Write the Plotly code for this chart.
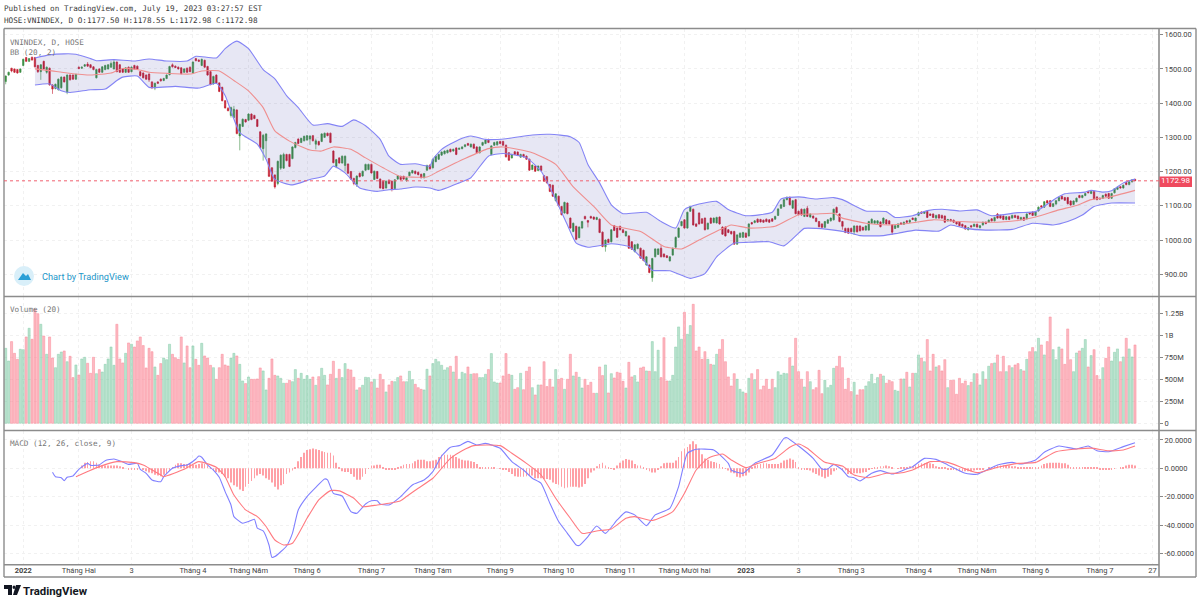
import plotly.graph_objects as go

opens = [
1463,1482,1502,1500,1498,1490,1510,1533,1522,1534,1533,1510,1492,1522,1490,1502,1453,1443,1440,1445,
1476,1432,1482,1482,1470,1505,1502,1508,1514,1512,1506,1474,1500,1490,1498,1500,1505,1500,1520,1512,
1500,1490,1505,1492,1510,1508,1492,1488,1482,1485,1462,1444,1462,1470,1466,1472,1483,1512,1508,1505,
1503,1490,1502,1505,1488,1530,1526,1510,1525,1507,1492,1456,1482,1459,1446,1407,1385,1364,1358,1380,
1304,1332,1352,1350,1368,1364,1352,1316,1267,1290,1238,1211,1190,1165,1210,1210,1250,1250,1238,1270,
1295,1285,1290,1292,1295,1305,1280,1288,1288,1300,1312,1312,1260,1215,1240,1225,1218,1222,1200,1180,
1163,1195,1187,1204,1206,1221,1177,1200,1178,1172,1152,1175,1172,1150,1178,1186,1186,1174,1188,1196,
1201,1198,1192,1182,1204,1219,1211,1229,1236,1248,1252,1255,1265,1260,1269,1265,1267,1273,1282,1272,
1280,1272,1255,1277,1282,1294,1250,1277,1278,1288,1288,1277,1255,1240,1258,1257,1242,1250,1245,1236,
1206,1216,1203,1216,1188,1185,1162,1160,1115,1128,1098,1079,1108,1064,1025,1040,1007,1035,1069,1057,
1069,1067,1060,1061,1023,980,1002,995,1042,1035,1040,1030,1012,1012,995,966,975,976,970,927,
927,890,951,958,976,959,954,939,956,979,1008,1042,1059,1035,1084,1090,1047,1079,1062,1064,
1032,1064,1051,1050,1067,1038,1038,1030,1025,1025,988,1008,1008,1020,1012,1051,1051,1061,1060,1058,
1061,1059,1062,1061,1072,1093,1098,1118,1125,1093,1118,1084,1090,1069,1093,1067,1070,1064,1054,1047,
1037,1049,1056,1059,1095,1076,1054,1034,1034,1034,1024,1041,1041,1037,1029,1029,1049,1049,1049,1053,
1049,1059,1056,1044,1034,1037,1050,1046,1056,1052,1064,1056,1072,1082,1078,1084,1076,1076,1064,1074,
1072,1070,1056,1060,1058,1052,1052,1046,1042,1030,1042,1040,1046,1036,1044,1052,1052,1062,1056,1076,
1072,1070,1060,1068,1064,1072,1070,1060,1066,1062,1080,1082,1072,1085,1100,1096,1115,1115,1098,1105,
1115,1128,1124,1124,1114,1104,1112,1130,1124,1130,1142,1136,1142,1126,1122,1122,1134,1136,1122,1138,
1148,1156,1152,1168,1162,1170,1177.5]
closes = [
1479,1490,1494,1490,1488,1500,1528,1522,1530,1526,1506,1492,1512,1500,1505,1453,1441,1455,1470,1476,
1462,1482,1468,1470,1484,1501,1505,1512,1508,1504,1498,1498,1490,1506,1510,1512,1516,1520,1492,1490,
1490,1503,1490,1505,1500,1500,1480,1474,1470,1468,1445,1458,1458,1465,1472,1482,1507,1506,1504,1500,
1486,1500,1490,1492,1520,1524,1522,1528,1505,1482,1454,1478,1459,1434,1407,1386,1378,1387,1382,1311,
1338,1353,1345,1368,1352,1355,1332,1270,1306,1310,1186,1172,1155,1230,1248,1250,1232,1215,1272,1285,
1282,1297,1303,1305,1304,1290,1290,1278,1310,1312,1305,1285,1226,1235,1225,1245,1245,1195,1178,1165,
1187,1185,1201,1221,1221,1196,1201,1180,1152,1150,1172,1165,1148,1176,1188,1177,1178,1182,1198,1203,
1194,1191,1182,1194,1218,1208,1236,1245,1250,1257,1260,1262,1258,1265,1250,1268,1272,1278,1277,1280,
1268,1255,1272,1285,1292,1285,1275,1285,1287,1282,1277,1243,1233,1250,1250,1247,1250,1243,1236,1204,
1219,1201,1216,1203,1172,1167,1142,1128,1135,1100,1074,1110,1077,1035,1049,1002,1038,1054,1062,1052,
1064,1061,1066,1022,981,1000,993,1030,1028,1008,1030,1022,1025,976,973,986,988,947,940,951,
905,946,974,974,951,951,949,951,976,1008,1035,1054,1035,1081,1098,1044,1040,1047,1049,1030,
1049,1049,1064,1066,1047,1017,1012,1022,1018,988,1015,1020,1022,1008,1047,1047,1056,1052,1053,1052,
1054,1052,1055,1069,1091,1103,1118,1125,1103,1115,1077,1074,1073,1090,1069,1076,1064,1054,1039,1037,
1054,1059,1064,1090,1080,1054,1040,1022,1020,1024,1041,1024,1027,1029,1041,1054,1061,1056,1056,1039,
1064,1047,1047,1023,1042,1047,1046,1052,1052,1058,1060,1064,1080,1078,1082,1066,1072,1066,1072,1064,
1064,1052,1060,1056,1052,1047,1042,1040,1032,1036,1038,1046,1038,1042,1052,1048,1058,1056,1066,1064,
1064,1060,1068,1060,1072,1066,1062,1066,1058,1076,1076,1072,1082,1096,1096,1112,1108,1098,1106,1115,
1124,1120,1116,1106,1102,1114,1122,1124,1130,1136,1138,1142,1120,1118,1120,1130,1128,1122,1136,1150,
1154,1152,1160,1162,1170,1176,1172.98]
highs = [
1481,1492,1503,1501,1499,1501,1530,1535,1532,1536,1535,1512,1514,1524,1507,1504,1455,1457,1472,1478,
1478,1484,1484,1484,1486,1507,1507,1514,1520,1514,1508,1500,1502,1508,1512,1514,1522,1528,1522,1514,
1502,1505,1507,1507,1512,1510,1494,1490,1484,1487,1464,1460,1464,1472,1474,1484,1509,1516,1510,1507,
1505,1502,1504,1507,1522,1532,1528,1530,1527,1509,1494,1480,1484,1461,1448,1409,1388,1390,1392,1382,
1340,1355,1354,1370,1370,1366,1354,1318,1310,1312,1240,1213,1192,1232,1250,1255,1252,1252,1274,1287,
1297,1299,1305,1307,1306,1307,1296,1290,1312,1314,1314,1314,1262,1237,1242,1247,1247,1224,1202,1182,
1189,1197,1203,1223,1223,1223,1203,1202,1180,1174,1174,1177,1174,1178,1190,1188,1188,1184,1200,1205,
1203,1200,1194,1196,1220,1221,1238,1247,1252,1259,1262,1264,1267,1267,1271,1270,1274,1280,1284,1282,
1282,1274,1274,1287,1294,1296,1277,1287,1289,1290,1290,1279,1257,1252,1260,1259,1252,1252,1247,1238,
1221,1218,1218,1218,1190,1187,1164,1162,1137,1130,1100,1112,1110,1066,1051,1042,1040,1056,1071,1059,
1071,1069,1068,1063,1025,1002,1004,1032,1044,1037,1042,1032,1027,1014,997,988,990,978,972,953,
929,948,976,976,985,961,956,953,978,1010,1037,1056,1061,1083,1100,1092,1049,1081,1064,1066,
1051,1066,1066,1068,1069,1040,1040,1032,1027,1027,1017,1022,1024,1022,1049,1053,1058,1063,1062,1060,
1063,1061,1064,1071,1093,1105,1120,1127,1127,1117,1120,1086,1092,1092,1100,1078,1072,1066,1056,1049,
1056,1061,1066,1092,1098,1078,1056,1036,1036,1036,1043,1043,1043,1039,1043,1056,1063,1058,1058,1055,
1066,1061,1058,1046,1044,1049,1052,1054,1058,1060,1066,1066,1083,1084,1084,1086,1078,1078,1074,1076,
1074,1072,1062,1062,1060,1054,1054,1048,1044,1038,1044,1048,1048,1044,1054,1054,1060,1064,1068,1079,
1074,1072,1070,1070,1074,1074,1072,1068,1068,1078,1082,1084,1084,1098,1102,1114,1117,1117,1108,1117,
1126,1130,1126,1126,1116,1116,1124,1132,1132,1138,1144,1144,1144,1128,1124,1132,1136,1138,1138,1152,
1156,1158,1162,1170,1172,1178,1178.55]
lows = [
1455,1480,1490,1488,1486,1488,1508,1520,1520,1524,1504,1488,1468,1498,1486,1451,1427,1440,1436,1442,
1460,1426,1466,1468,1468,1499,1500,1506,1506,1502,1496,1472,1488,1488,1496,1498,1503,1498,1490,1488,
1488,1488,1488,1490,1498,1498,1478,1472,1468,1462,1441,1438,1456,1463,1464,1470,1481,1504,1502,1498,
1484,1488,1488,1490,1486,1522,1520,1508,1503,1480,1452,1454,1457,1432,1405,1384,1376,1358,1356,1309,
1262,1330,1343,1348,1350,1353,1330,1268,1232,1240,1184,1170,1150,1160,1205,1208,1230,1213,1236,1268,
1280,1283,1288,1290,1278,1288,1265,1276,1286,1298,1303,1283,1224,1210,1223,1223,1200,1193,1176,1160,
1155,1183,1185,1202,1204,1194,1175,1178,1150,1148,1150,1163,1142,1148,1176,1175,1176,1170,1186,1194,
1192,1189,1180,1180,1202,1206,1209,1227,1234,1246,1250,1253,1256,1258,1248,1263,1265,1271,1275,1270,
1266,1253,1253,1275,1280,1283,1248,1275,1276,1280,1275,1241,1231,1238,1248,1245,1240,1241,1234,1202,
1204,1199,1201,1201,1170,1165,1140,1126,1113,1098,1072,1077,1075,1033,1023,1000,1005,1033,1060,1037,
1062,1059,1058,1020,979,966,991,993,1026,1006,1028,1020,1010,974,971,964,973,945,938,925,
903,878,949,956,949,949,947,937,954,977,1006,1040,1033,1033,1082,1042,1038,1045,1047,1028,
1030,1047,1049,1048,1045,1015,1010,1020,1016,986,986,1006,1006,1006,1010,1045,1049,1050,1051,1050,
1052,1050,1053,1059,1070,1091,1096,1116,1101,1091,1075,1072,1071,1067,1067,1065,1062,1052,1037,1035,
1035,1047,1054,1057,1078,1052,1030,1020,1018,1022,1015,1022,1025,1027,1027,1027,1047,1047,1047,1037,
1047,1045,1045,1015,1032,1035,1044,1044,1050,1050,1058,1054,1070,1076,1076,1064,1070,1064,1062,1062,
1062,1050,1054,1054,1050,1045,1040,1038,1030,1028,1036,1038,1036,1034,1042,1046,1050,1054,1054,1062,
1062,1058,1058,1058,1062,1064,1060,1058,1056,1060,1074,1070,1070,1083,1094,1094,1106,1096,1096,1103,
1113,1118,1114,1104,1100,1102,1110,1122,1122,1128,1136,1134,1118,1116,1118,1120,1126,1120,1120,1136,
1146,1150,1150,1160,1160,1168,1172.98]
volumes_m = [
852,708,928,795,727,841,837,981,1080,955,1295,1246,1125,992,784,981,742,632,784,810,
822,700,761,519,663,549,731,750,682,568,750,564,610,583,670,731,867,659,1125,731,
686,795,913,898,867,936,981,883,629,852,814,640,545,678,742,723,898,784,746,727,
981,686,879,632,879,727,659,909,765,742,659,632,500,632,784,663,651,742,795,765,
670,481,451,526,500,500,504,629,595,379,511,731,545,538,511,455,455,489,473,610,
511,568,500,542,500,526,432,530,625,545,436,557,705,511,614,519,678,614,606,523,
379,405,432,523,519,470,500,401,557,496,356,436,477,473,519,538,473,473,591,496,
443,405,386,379,614,538,678,727,700,659,606,632,648,583,761,500,580,564,640,557,
564,564,519,519,557,610,792,470,458,458,538,792,557,545,386,405,568,382,591,640,
405,322,436,436,700,417,500,413,610,500,511,386,500,784,538,580,523,401,500,432,
466,341,341,640,542,663,345,564,515,580,572,477,401,693,527,542,470,629,640,595,
591,928,587,830,519,973,481,481,545,867,1095,955,1261,1011,1110,1352,822,867,727,814,
727,670,663,784,841,951,700,527,424,564,500,386,356,341,511,564,496,610,382,424,
500,386,500,405,587,549,568,564,746,651,966,587,500,413,587,473,382,405,602,337,
489,405,432,625,648,761,632,386,511,360,466,322,382,382,424,473,557,451,519,557,
538,455,489,473,375,364,504,504,580,413,568,568,777,742,700,951,595,784,640,655,
595,723,405,489,489,330,511,451,481,428,466,564,564,436,587,500,648,678,686,777,
587,761,587,655,632,663,678,610,595,727,814,860,814,966,890,777,928,1208,837,723,
867,845,670,1072,723,587,799,822,852,951,640,769,837,542,500,632,738,867,708,807,
845,700,754,966,845,754,890]

upper_idx = [10,15,20,24,29,31,37,44,49,55,62,65,72,75,79,83,88,92,96,100,105,110,115,119,123,128,131,135,
140,145,146,149,155,159,164,171,180,186,193,196,199,203,207,211,219,224,229,232,237,243,247,253,262,265,271,
277,283,286,294,301,304,310,315,320,326,332,337,346,352,359,362,369,371,375,378,382,386]
upper_vals = [1532,1541,1544,1543,1530,1524,1527,1523,1529,1523,1523,1537,1532,1559,1581,1559,1498,1471,1422,1387,1336,1340,1332,1351,1334,1294,1245,1221,
1223,1216,1236,1265,1294,1304,1294,1296,1307,1309,1302,1285,1221,1167,1103,1077,1081,1054,1035,1089,1105,1113,1089,1071,1081,1120,1126,
1120,1124,1118,1085,1083,1066,1071,1086,1090,1085,1088,1071,1080,1083,1122,1135,1140,1145,1140,1144,1167,1178]
basis_idx = [10,15,21,29,36,40,45,49,55,63,67,73,78,83,88,92,97,104,108,112,118,123,129,135,
138,144,148,157,165,170,180,188,194,201,207,217,225,231,237,244,248,254,263,271,
277,283,286,294,302,309,317,326,334,339,346,352,360,366,371,377,386]
basis_vals = [1500,1495,1488,1482,1488,1501,1498,1490,1487,1485,1494,1494,1466,1436,1387,1319,1289,1263,1260,1272,1265,1240,1211,1185,
1184,1184,1201,1238,1267,1272,1255,1221,1155,1098,1044,1025,981,974,1000,1030,1044,1035,1040,1074,
1076,1078,1064,1049,1044,1049,1059,1054,1052,1052,1057,1067,1088,1101,1118,1125,1145]
lower_idx = [10,15,19,22,29,34,38,40,45,49,58,66,72,75,80,86,89,92,98,104,109,112,116,121,127,131,135,
140,145,148,155,159,165,170,178,183,188,192,195,199,207,213,218,221,227,234,239,243,249,253,261,266,271,
273,277,281,288,292,300,305,311,319,323,328,335,344,351,358,363,368,372,378,386]
lower_vals = [1453,1456,1436,1431,1439,1441,1466,1476,1479,1446,1449,1444,1458,1422,1314,1280,1236,1177,1161,1177,1187,1216,1196,1152,1142,1147,1149,
1155,1152,1145,1167,1182,1245,1253,1240,1201,1118,1044,991,979,989,981,942,912,910,888,902,951,991,993,995,983,1020,
1034,1034,1031,1022,1013,1013,1020,1029,1026,1044,1034,1029,1031,1049,1044,1054,1073,1098,1108,1108]

macd_idx = [16,17,19,20,21,23,25,28,29,32,34,37,40,42,45,46,48,50,53,54,57,60,62,65,66,67,69,71,73,75,77,78,81,83,85,86,88,90,91,92,96,98,100,103,106,109,110,112,115,118,120,123,125,127,128,131,135,
139,143,146,149,152,155,158,161,164,169,173,177,180,183,186,189,192,195,196,199,202,205,209,212,215,219,222,227,230,233,236,242,247,248,252,256,262,266,267,271,
276,279,281,283,286,288,290,292,296,299,303,307,310,314,318,322,328,332,339,344,347,352,355,360,366,370,373,377,382,386]
macd_vals = [-2.8,-5.9,-6.6,-8.7,-6.3,-5.4,-.7,3.5,2.1,2.4,5.4,6.6,4.5,2.8,3.5,-.7,-3.5,-8.2,-9.4,-5.9,0,1.9,2.4,6.6,8.7,7.8,2.4,-1.2,-6.3,-16.4,-25.8,-34,-38.7,-37.5,-35.9,-42.2,-44.1,-54,-62.7,-62.2,-54.7,-45.8,-29.3,-19.9,-13.4,-7.5,-8.2,-17.6,-19.5,-30.5,-31.7,-25.1,-22.8,-22.8,-25.1,-25.8,-19.9,
-11.7,-8.2,-2.3,8.7,14.8,16,19,16.4,17.6,14.1,4.7,-1.2,-7,-10.6,-24.6,-37.5,-45.8,-54,-54.4,-48.1,-40.6,-45.8,-36.4,-30.7,-32.8,-40.4,-32.8,-28.2,-12.9,10.6,13.4,12.9,3.5,-1.2,-3.5,3.5,9.4,21.1,21.6,15.7,
7,-.5,-.5,2.8,-1.2,-5.9,-6.6,-8.9,-3.5,-1.6,-4,-1.2,1.2,7,6.3,2.4,-3.5,-4.2,2.4,4.2,3,5.9,11.3,15.7,13.6,15.7,12.4,11.7,15.3,18]
signal_idx = [24,28,32,38,44,47,53,54,61,66,72,75,78,82,86,89,92,95,98,103,107,111,114,119,122,127,131,135,
137,141,146,152,156,160,169,173,178,183,188,193,197,202,207,212,215,221,228,232,236,240,245,248,253,257,263,268,271,
274,280,286,290,295,301,305,310,316,322,332,339,346,352,359,366,371,377,382,386]
signal_vals = [-5.9,-2.3,1.2,4.7,4,2.4,-4.7,-5.9,-.7,4.7,.7,-5.9,-18.8,-29.3,-34,-41,-50.5,-54,-52.8,-35.2,-22.3,-15.7,-15.9,-21.1,-27,-25.8,-24.6,-22.8,
-19.9,-14,-7,7,12.4,16,16,10.6,3.5,-4.7,-21.1,-35.2,-45.8,-44.1,-42.7,-35.2,-34,-36.8,-30.5,-17.6,-1.2,7,10.1,5.9,.5,3.5,7,14.8,17.1,
14.1,4.2,1.6,-4.7,-6.6,-3.5,-3.5,-1.2,4.7,4.2,-3,.7,3.5,4.2,11.7,13.6,14.2,12.4,12.9,15.7]
hist_vals = [
2,4,4.5,5,5,4,2.5,2,2,2,2,2,2,1.5,1,0,-.5,-1,-1.2,-.5,
0,-.5,-2,-3,-3.5,-4.5,-5,-5.5,-4.5,-3.5,-1,1,2.5,3.5,3.5,3,3,3,2.5,2.5,
3,3.5,3,2,.5,-1.5,-2.5,-3,-4,-6,-7,-10,-12,-13,-15,-16,-13,-11,-9,-7,
-5,-4,-5,-7,-8,-10,-13,-15,-12,-11,-4,-3,-1.5,1,5,8,11,13,13.5,14,
13.5,13,12,11.5,11,11,9,4,.5,-2,-2.5,-2.5,-4,-6,-8,-8,-6,-4,-.3,2,
2,2.5,2.5,1,-.5,-1,-.5,-.8,.5,1.5,2.5,
3,3,3.5,5,6,6,6,5,5,5.5,6,8,9.5,9.5,9.5,9.5,9,8,7,6,
5.5,5.5,5,4.5,3,1,.5,.3,.5,.7,.5,0,-.3,-.7,-1,-2.5,-4,-5.5,-6,-6,
-6,-5.5,-5,-5,-7,-7,-7,-7.5,-7.5,-8,-10,-11,-11.5,-13,-14,-13.5,-13,-13,-13,-13.5,
-13,-11,-7,-3,-1.5,1.5,3,4,2,.3,-.3,-.7,2,4,5.5,6.5,6,5.5,3,2,
2,1,-.5,-2,-3,-3,-1,1.5,3.5,4,4,4,5.5,8,12,14,15,17,19,17,
14,10,7,6,5,4.5,4,3,1,-.3,-1.5,-3,-3.5,-6,-6.5,-5.5,-5,-3,.5,2,
2.5,3,3.5,3.5,3,3,3,3,4,5.5,6,7,6,4.5,1,-.5,
-.5,-1,-1.5,-3,-4,-5,-6,-7,-6,-4.5,-2,-1,0,-.5,-1.5,-4,-4,-3.5,-3.5,-3.5,
-3,-2.5,-1,-.3,.5,1,1.5,1.5,2,1.5,.5,0,-.3,.3,.7,1,1.5,1.5,2,3,
3.5,3.5,4,3.5,3,1.5,1,.7,.5,-.5,-1,-1,-1.5,-2,-2,-2,-2,-2,-1.5,-1,
-1,-.5,0,.5,1,1.5,2,2,2,2,2,1.5,1.5,1,.5,.3,.3,.3,.5,1,
1,2,3,3.5,4,4,4,4,3.5,3.5,2.5,1,.5,.3,.3,.3,.5,.7,.5,.3,
.3,-.5,-.7,-.5,-.5,-.5,-.3,0,.7,1,2,2.5,2.5,2]

tick_idx = [6,25,43,64,83,103,125,146,169,189,210,232,253,271,289,312,332,352,374,392]
tick_text = ["<b>2022</b>","Tháng Hai","3","Tháng 4","Tháng Năm","Tháng 6","Tháng 7","Tháng Tám","Tháng 9","Tháng 10",
             "Tháng 11","Tháng Mười hai","<b>2023</b>","3","Tháng 3","Tháng 4","Tháng Năm","Tháng 6","Tháng 7","27"]
price_ticks = [900,1000,1100,1200,1300,1400,1500,1600]
vol_ticks = [0,250,500,750,1000,1250]
vol_labels = ["0","250M","500M","750M","1B","1.25B"]
macd_ticks = [20,0,-20,-40,-60]

W, H = 1200, 602
px = lambda v: v / W
py = lambda v: 1 - v / H
n = len(closes)
idx = list(range(n))
UP, DOWN = "#3d8f45", "#c41f30"
BLUE, RED = "#8484f5", "#ef8f8f"
GRID = "#f1f1f1"
MONO = "DejaVu Sans Mono"
SANS = "Roboto"

fig = go.Figure()
fig.add_trace(go.Scatter(x=upper_idx, y=upper_vals, mode="lines", line=dict(color=BLUE, width=1.1, shape="spline", smoothing=0.5), xaxis="x", yaxis="y"))
fig.add_trace(go.Scatter(x=lower_idx, y=lower_vals, mode="lines", line=dict(color=BLUE, width=1.1, shape="spline", smoothing=0.5),
                         fill="tonexty", fillcolor="rgba(70,70,170,0.13)", xaxis="x", yaxis="y"))
fig.add_trace(go.Scatter(x=basis_idx, y=basis_vals, mode="lines", line=dict(color=RED, width=1.1, shape="spline", smoothing=0.5), xaxis="x", yaxis="y"))
fig.add_trace(go.Candlestick(x=idx, open=opens, high=highs, low=lows, close=closes,
                             increasing=dict(line=dict(color=UP, width=0.6), fillcolor=UP),
                             decreasing=dict(line=dict(color=DOWN, width=0.6), fillcolor=DOWN),
                             whiskerwidth=0, xaxis="x", yaxis="y"))
fig.add_trace(go.Bar(x=idx, y=volumes_m, width=0.72,
                     marker=dict(color=["rgba(120,200,160,0.5)" if c >= o else "rgba(250,130,145,0.55)" for o, c in zip(opens, closes)],
                                 line=dict(color=["rgba(120,200,160,0.7)" if c >= o else "rgba(250,130,145,0.75)" for o, c in zip(opens, closes)], width=0.6)),
                     xaxis="x2", yaxis="y2"))
hist_idx = list(range(n - len(hist_vals), n))
fig.add_trace(go.Bar(x=hist_idx, y=hist_vals, width=0.24, marker=dict(color="#ffa0a6", line=dict(width=0)), xaxis="x3", yaxis="y3"))
fig.add_trace(go.Scatter(x=macd_idx, y=macd_vals, mode="lines", line=dict(color="#8080ff", width=1.1, shape="spline", smoothing=0.5), xaxis="x3", yaxis="y3"))
fig.add_trace(go.Scatter(x=signal_idx, y=signal_vals, mode="lines", line=dict(color="#ff7a80", width=1.1, shape="spline", smoothing=0.5), xaxis="x3", yaxis="y3"))

xrange = [-0.58, 394.2]
xcommon = dict(range=xrange, domain=[px(4), px(1159)], tickmode="array", tickvals=tick_idx, ticktext=tick_text,
               showgrid=True, gridcolor=GRID, griddash="dot", gridwidth=1, zeroline=False, showline=False, rangeslider=dict(visible=False))
ycommon = dict(side="right", showgrid=True, gridcolor=GRID, griddash="dot", gridwidth=1, zeroline=False, showline=False,
               ticks="outside", ticklen=3, tickcolor="#888888", tickfont=dict(family=SANS, size=7.5, color="#444444"), tickmode="array")

fig.update_layout(
    width=W, height=H, autosize=False, margin=dict(l=0, r=0, t=0, b=0),
    paper_bgcolor="white", plot_bgcolor="white", showlegend=False, barmode="overlay",
    xaxis=dict(xcommon, anchor="y", showticklabels=False, ticks=""),
    xaxis2=dict(xcommon, anchor="y2", showticklabels=False, ticks="", matches="x"),
    xaxis3=dict(xcommon, anchor="y3", matches="x", ticks="",
                tickfont=dict(family=SANS, size=7.5, color="#444444")),
    yaxis=dict(ycommon, domain=[py(296.5), py(28.5)], anchor="x", range=[835, 1618], tickvals=price_ticks,
               ticktext=[f"{v:.2f}" for v in price_ticks]),
    yaxis2=dict(ycommon, domain=[py(430.5), py(297)], anchor="x2", range=[-82, 1435], tickvals=vol_ticks, ticktext=vol_labels),
    yaxis3=dict(ycommon, domain=[py(564.7), py(431)], anchor="x3", range=[-67.9, 26.3], tickvals=macd_ticks,
                ticktext=[f"{v:.4f}" for v in macd_ticks]),
)

LINE = "#8c8c8c"
def seg(x0, y0, x1, y1, w=1.4):
    return dict(type="line", xref="paper", yref="paper", x0=px(x0), y0=py(y0), x1=px(x1), y1=py(y1), line=dict(color=LINE, width=w), layer="above")

shapes = [
    seg(4, 28.5, 1196, 28.5), seg(4, 577, 1196, 577), seg(4, 28.5, 4, 577), seg(1196, 28.5, 1196, 577),
    seg(1159, 28.5, 1159, 577, 1.6), seg(4, 296.5, 1196, 296.5), seg(4, 430.5, 1196, 430.5), seg(4, 564.8, 1159, 564.8, 1.6),
    dict(type="line", xref="x", yref="y", x0=xrange[0], x1=xrange[1], y0=closes[-1], y1=closes[-1],
         line=dict(color="#f0606f", width=1, dash="dot"), layer="above"),
    dict(type="rect", xref="paper", yref="paper", x0=px(1159.5), x1=px(1192), y0=py(187), y1=py(176.5),
         fillcolor="#ef4a5e", line=dict(width=0), layer="above"),
    # Chart-by badge
    dict(type="circle", xref="paper", yref="paper", x0=px(14), x1=px(34), y0=py(286), y1=py(266),
         fillcolor="#d9eff9", line=dict(width=0), layer="above"),
    dict(type="path", xref="paper", yref="paper", layer="above", line=dict(width=0), fillcolor="#2a9fd6",
         path=f"M {px(18)} {py(280)} L {px(23)} {py(273)} L {px(26)} {py(276)} L {px(28)} {py(274)} L {px(31)} {py(280)} Z"),
    # Footer mark
    dict(type="rect", xref="paper", yref="paper", x0=px(4), x1=px(12), y0=py(589), y1=py(585), fillcolor="#131722", line=dict(width=0), layer="above"),
    dict(type="rect", xref="paper", yref="paper", x0=px(8), x1=px(12), y0=py(595), y1=py(585), fillcolor="#131722", line=dict(width=0), layer="above"),
    dict(type="circle", xref="paper", yref="paper", x0=px(12.5), x1=px(15.5), y0=py(589), y1=py(585.5), fillcolor="#131722", line=dict(width=0), layer="above"),
    dict(type="path", xref="paper", yref="paper", layer="above", line=dict(width=0), fillcolor="#131722",
         path=f"M {px(16)} {py(585)} L {px(21)} {py(585)} L {px(17)} {py(595)} L {px(13)} {py(595)} Z"),
]

def note(x, y, text, size=7.67, color="#555555", family=MONO, **kw):
    return dict(xref="paper", yref="paper", x=px(x - 2), y=py(y), text=text, showarrow=False, xanchor="left", yanchor="middle",
                font=dict(family=family, size=size, color=color), **kw)

annotations = [
    note(4, 8.5, "Published on TradingView.com, July 19, 2023 03:27:57 EST", color="#3a3a3a"),
    note(4, 20.5, "HOSE:VNINDEX, D O:1177.50 H:1178.55 L:1172.98 C:1172.98", color="#3a3a3a"),
    note(10, 42, "VNINDEX, D, HOSE", color="#777777"),
    note(10, 53, "BB (20, 2)", color="#777777"),
    note(10, 309, "Volume (20)", color="#777777"),
    note(10, 443, "MACD (12, 26, close, 9)", color="#777777"),
    note(42, 276, "Chart by TradingView", size=9.2, color="#2196c9", family=SANS),
    note(23, 590.5, "<b>TradingView</b>", size=11.4, color="#131722", family=SANS),
    dict(xref="paper", yref="y", x=px(1176), y=closes[-1], text=f"{closes[-1]:.2f}", showarrow=False, xanchor="center", yanchor="middle",
         font=dict(family=SANS, size=8, color="white")),
]
fig.update_layout(shapes=shapes, annotations=annotations)
fig.write_html("out.html", config=dict(displayModeBar=False),
               post_script="document.body.style.margin='0';document.documentElement.style.overflow='hidden';")
